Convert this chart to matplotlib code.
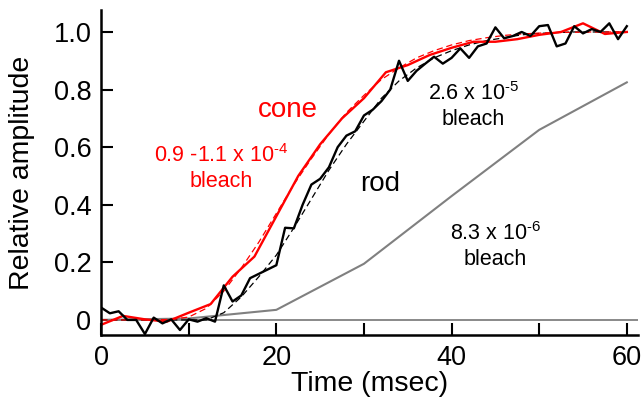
import matplotlib
matplotlib.use("Agg")
import matplotlib.pyplot as plt

plt.rcParams['font.family'] = ['Liberation Sans', 'DejaVu Sans']
plt.rcParams['mathtext.fontset'] = 'custom'
plt.rcParams['mathtext.rm'] = 'Liberation Sans'
plt.rcParams['mathtext.it'] = 'Liberation Sans'

# rod response, 1 ms steps
rod_t = list(range(0, 61))
rod_y = [0.043, 0.023, 0.03, 0.0, 0.0, -0.049, 0.008, -0.012, 0.002, -0.035,
         0.002, -0.006, 0.006, -0.006, 0.12, 0.064, 0.085, 0.145, 0.16, 0.175,
         0.19, 0.32, 0.318, 0.40, 0.47, 0.49, 0.53, 0.60, 0.64, 0.655,
         0.71, 0.73, 0.76, 0.80, 0.90, 0.83, 0.865, 0.89, 0.914, 0.89,
         0.91, 0.943, 0.91, 0.95, 0.96, 1.016, 0.978, 0.986, 1.0, 0.986,
         1.02, 1.024, 0.95, 0.96, 1.02, 0.995, 1.01, 1.0, 1.03, 0.975, 1.02]

# cone response, 2.5 ms steps
cone_t = [0, 2.5, 5, 7.5, 10, 12.5, 15, 17.5, 20, 22.5, 25, 27.5, 30,
          32.5, 35, 37.5, 40, 42.5, 45, 47.5, 50, 52.5, 55, 57.5, 60]
cone_y = [-0.017, 0.014, 0.002, -0.006, 0.025, 0.055, 0.15, 0.22, 0.36, 0.50,
          0.61, 0.70, 0.77, 0.86, 0.885, 0.92, 0.945, 0.966, 0.966, 0.975,
          0.99, 1.0, 1.03, 0.993, 1.0]

# fits
fit_t = [0, 2, 4, 6, 8, 10, 12, 14, 16, 18, 20, 22, 24, 26, 28, 30,
         32, 34, 36, 38, 40, 42, 44, 46, 48, 50, 52, 54, 56, 58, 60]
cone_fit = [0, 0, 0, 0, 0.002, 0.01, 0.04, 0.10, 0.18, 0.27, 0.37, 0.47, 0.56,
            0.645, 0.72, 0.78, 0.835, 0.875, 0.91, 0.935, 0.955, 0.97, 0.98,
            0.988, 0.993, 0.996, 0.998, 0.999, 1.0, 1.0, 1.0]
rod_fit = [0, 0, 0, 0, 0, 0, 0, 0.025, 0.08, 0.15, 0.225, 0.32, 0.42,
           0.52, 0.61, 0.69, 0.77, 0.83, 0.875, 0.91, 0.935, 0.955, 0.97,
           0.98, 0.99, 0.995, 0.998, 1.0, 1.0, 1.0, 1.0]

# dim rod flash (8.3e-6 bleach)
dim_t = [0, 10, 20, 30, 40, 50, 60]
dim_y = [0, 0.005, 0.035, 0.195, 0.43, 0.66, 0.825]

fig = plt.figure(figsize=(6.44, 4.03), dpi=100)
ax = fig.add_axes([0.157, 0.169, 0.834, 0.806])

ax.axhline(0, color='#808080', lw=1.3)
ax.plot(dim_t, dim_y, color='#808080', lw=1.5)
ax.plot(fit_t, rod_fit, color='black', lw=0.9, ls=(0, (5, 3)))
ax.plot(fit_t, cone_fit, color='red', lw=0.9, ls=(0, (5, 3)))
ax.plot(cone_t, cone_y, color='red', lw=1.7)
ax.plot(rod_t, rod_y, color='black', lw=1.7)

ax.set_xlim(0, 61.3)
ax.set_ylim(-0.052, 1.076)
ax.set_xticks([0, 10, 20, 30, 40, 50, 60])
ax.set_xticklabels(['0', '', '20', '', '40', '', '60'])
ax.set_yticks([0, 0.2, 0.4, 0.6, 0.8, 1.0])
ax.set_yticklabels(['0', '0.2', '0.4', '0.6', '0.8', '1.0'])
ax.tick_params(direction='in', length=8.5, width=1.5, labelsize=19.5)
ax.tick_params(axis='x', pad=7)
ax.tick_params(axis='y', pad=7)
for s in ['top', 'right']:
    ax.spines[s].set_visible(False)
for s in ['left', 'bottom']:
    ax.spines[s].set_linewidth(1.8)

ax.set_xlabel('Time (msec)', fontsize=20.5, labelpad=0)
ax.set_ylabel('Relative amplitude', fontsize=20.5, labelpad=13)

hy = '\u2010'
ax.text(21.3, 0.705, 'cone', color='red', fontsize=20, ha='center', va='baseline')
ax.text(31.9, 0.448, 'rod', color='black', fontsize=20, ha='center', va='baseline')
ax.text(13.7, 0.549, '0.9 -1.1 x 10$^{' + hy + '4}$', color='red', fontsize=15.5, ha='center', va='baseline')
ax.text(13.7, 0.462, 'bleach', color='red', fontsize=15.5, ha='center', va='baseline')
ax.text(42.5, 0.764, '2.6 x 10$^{' + hy + '5}$', color='black', fontsize=15.5, ha='center', va='baseline')
ax.text(42.5, 0.677, 'bleach', color='black', fontsize=15.5, ha='center', va='baseline')
ax.text(45.0, 0.278, '8.3 x 10$^{' + hy + '6}$', color='black', fontsize=15.5, ha='center', va='baseline')
ax.text(45.0, 0.191, 'bleach', color='black', fontsize=15.5, ha='center', va='baseline')

fig.savefig('out.png', dpi=100)
